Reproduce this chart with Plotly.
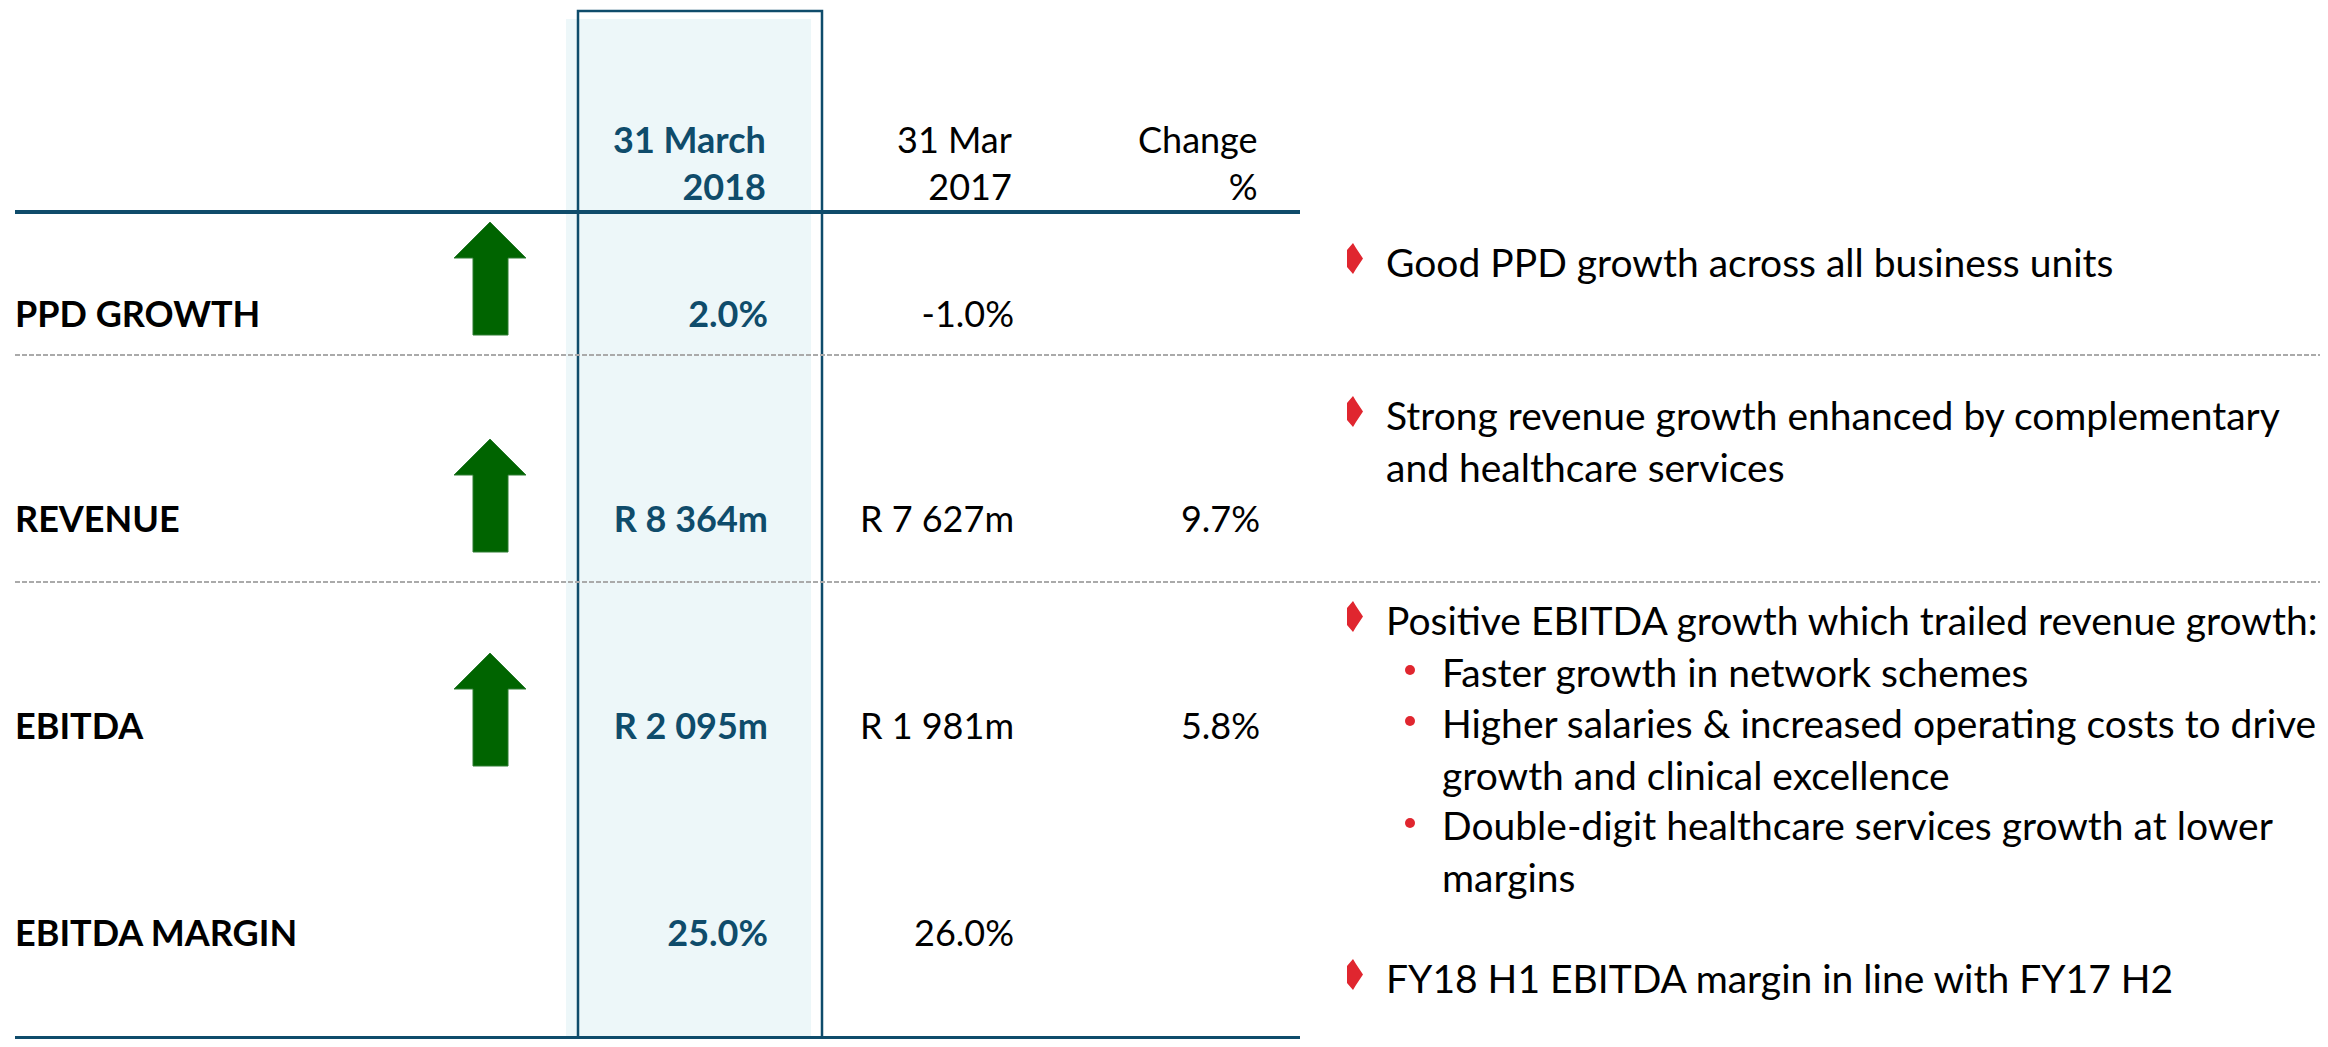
import plotly.graph_objects as go

# ---- table content ----
metrics = ["PPD GROWTH", "REVENUE", "EBITDA", "EBITDA MARGIN"]
fy2018 = ["2.0%", "R 8 364m", "R 2 095m", "25.0%"]
fy2017 = ["-1.0%", "R 7 627m", "R 1 981m", "26.0%"]
change_pct = ["", "9.7%", "5.8%", ""]
trend_up = [True, True, True, False]
col_headers = ["31 March<br>2018", "31 Mar<br>2017", "Change<br>%"]

# ---- commentary (kind: main bullet, sub bullet, or wrapped continuation) ----
note_kind = ["main", "main", "cont", "main", "sub", "sub", "cont_sub", "sub", "cont_sub", "main"]
note_text = [
    "Good PPD growth across all business units",
    "Strong revenue growth enhanced by complementary",
    "and healthcare services",
    "Positive EBITDA growth which trailed revenue growth:",
    "Faster growth in network schemes",
    "Higher salaries & increased operating costs to drive",
    "growth and clinical excellence",
    "Double-digit healthcare services growth at lower",
    "margins",
    "FY18 H1 EBITDA margin in line with FY17 H2",
]

# ---- layout (pixels of the slide) ----
W, H = 2328, 1047
OFF = 8  # default body margin of the page
ROW_Y = [318, 523, 730, 937]
COL_X = [768, 1014, 1260]
LABEL_X = 15
HEADER_Y = 162
DASH_Y = [355, 582]
RULE_Y = [212, 1038]
ARROW_X = 490
ARROW_TOP = [222, 439, 653]
NOTE_Y = [262, 415, 467, 620, 672, 723, 775, 825, 877, 978]
NOTE_X = {"main": 1384, "cont": 1384, "sub": 1440, "cont_sub": 1440}

TEAL = "#0F4C6B"
RED = "#E0262F"
FONT = "Lato, 'Open Sans', sans-serif"
FS = 36
FS_NOTE = 39

fig = go.Figure()

# highlighted current-year column
shapes = [
    dict(type="rect", x0=566, x1=811, y0=19, y1=H + 20, fillcolor="#EDF7F9",
         line=dict(width=0), layer="below"),
    dict(type="path", path=f"M 578,{H + 20} L 578,11 L 822,11 L 822,{H + 20}",
         line=dict(color=TEAL, width=2.5), layer="below"),
]
for y in RULE_Y:
    shapes.append(dict(type="line", x0=15, x1=1300, y0=y, y1=y,
                       line=dict(color=TEAL, width=4)))
for y in DASH_Y:
    shapes.append(dict(type="line", x0=15, x1=W + 20, y0=y, y1=y,
                       line=dict(color="#AAAAAA", width=2, dash="5px,2px")))

# green up arrows
for up, top in zip(trend_up, ARROW_TOP + [None]):
    if not up:
        continue
    hb, bot = top + 36, top + 113
    p = (f"M {ARROW_X},{top} L {ARROW_X + 36},{hb} L {ARROW_X + 18},{hb} "
         f"L {ARROW_X + 18},{bot} L {ARROW_X - 17},{bot} L {ARROW_X - 17},{hb} "
         f"L {ARROW_X - 36},{hb} Z")
    shapes.append(dict(type="path", path=p, fillcolor="#006400",
                       line=dict(color="#2E7D32", width=1)))

# red bullet markers
for kind, y in zip(note_kind, NOTE_Y):
    if kind == "main":
        x0, t, b = 1347, y - 19, y + 12
        m = (t + b) / 2
        p = (f"M {x0 + 6},{t} L {x0 + 9},{t + 5} L {x0 + 16},{m} L {x0 + 9},{b - 5} "
             f"L {x0 + 6},{b} L {x0},{b - 7} L {x0},{t + 7} Z")
        shapes.append(dict(type="path", path=p, fillcolor=RED, line=dict(width=0)))
    elif kind == "sub":
        shapes.append(dict(type="circle", x0=1405, x1=1415, y0=y - 7, y1=y + 3,
                           fillcolor=RED, line=dict(width=0)))

# row labels
fig.add_trace(go.Scatter(
    x=[LABEL_X] * len(metrics), y=ROW_Y, text=metrics, mode="text",
    textposition="middle right", textfont=dict(family=FONT, size=FS, color="black", weight="bold"),
    hoverinfo="skip"))

# value columns
for col, vals, color, weight in [(0, fy2018, TEAL, "bold"), (1, fy2017, "black", "normal"),
                                  (2, change_pct, "black", "normal")]:
    fig.add_trace(go.Scatter(
        x=[COL_X[col]] * len(vals), y=ROW_Y, text=vals, mode="text",
        textposition="middle left", textfont=dict(family=FONT, size=FS, color=color, weight=weight),
        hoverinfo="skip"))

annotations = []
for i, h in enumerate(col_headers):
    annotations.append(dict(
        x=COL_X[i], y=HEADER_Y, text=h, showarrow=False, xanchor="right", yanchor="middle",
        align="right", font=dict(family=FONT, size=FS, color=TEAL if i == 0 else "black",
                                 weight="bold" if i == 0 else "normal")))

for kind, txt, y in zip(note_kind, note_text, NOTE_Y):
    annotations.append(dict(
        x=NOTE_X[kind], y=y, text=txt, showarrow=False, xanchor="left", yanchor="middle",
        font=dict(family=FONT, size=FS_NOTE, color="black")))

fig.update_layout(
    width=W - 2 * OFF, height=H - 2 * OFF,
    margin=dict(l=0, r=0, t=0, b=0),
    paper_bgcolor="white", plot_bgcolor="white",
    showlegend=False, shapes=shapes, annotations=annotations,
    xaxis=dict(range=[OFF, W - OFF], visible=False, fixedrange=True),
    yaxis=dict(range=[H - OFF, OFF], visible=False, fixedrange=True),
)

fig.write_html("out.html")
